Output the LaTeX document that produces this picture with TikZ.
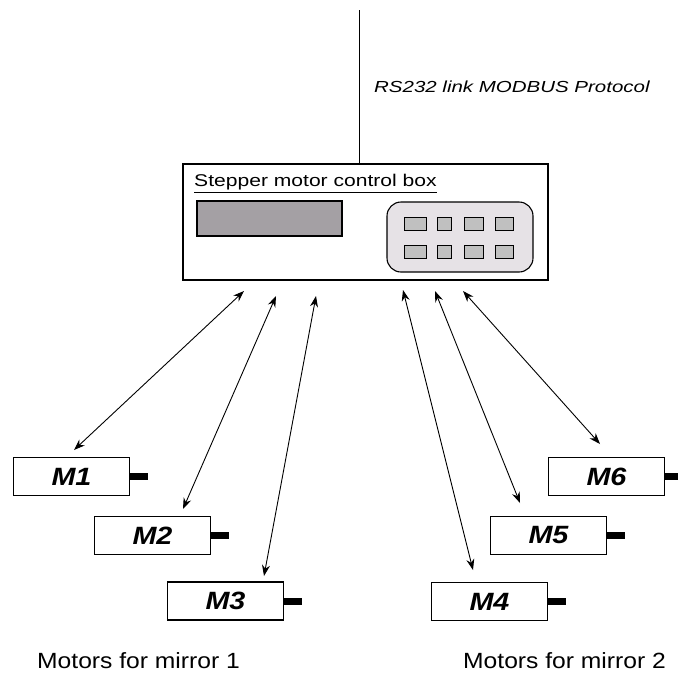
\documentclass[tikz,border=0pt]{standalone}
\usepackage{fontspec}
\usepackage{graphicx}
\setmainfont{Liberation Sans}
\usetikzlibrary{arrows.meta}
\definecolor{dispgray}{HTML}{A4A0A4}
\definecolor{padgray}{HTML}{E6E2E6}
\definecolor{btngray}{HTML}{C0C0C0}
\tikzset{
  motor/.style={draw, line width=1.1pt, minimum width=116pt, minimum height=38pt, inner sep=0pt,
    font=\fontsize{25}{25}\selectfont\bfseries\itshape},
  link/.style={line width=0.9pt, {Stealth[length=11pt,width=8pt]}-{Stealth[length=11pt,width=8pt]}},
  btn/.style={draw, line width=1pt, fill=btngray},
  plain/.style={inner sep=0pt, anchor=base west}
}
\newcommand{\shaft}[1]{\fill (#1.east) ++(0,-3.5) rectangle ++(18,7);}
\newcommand{\mlabel}[1]{\scalebox{1.15}[1]{#1}}
\begin{document}
\begin{tikzpicture}[x=1pt,y=-1pt]
\useasboundingbox (0,0) rectangle (678,673);
% main box
\node[draw, line width=1.3pt, minimum width=365pt, minimum height=116pt, inner sep=0pt] (box) at (365.5,222) {};
\coordinate (top) at (359,10);
\draw[line width=1pt] (top) -- (top |- box.north);
\node[plain, font=\fontsize{16}{16}\selectfont\itshape] (rs) at (374,92) {\scalebox{1.28}[1]{RS232 link MODBUS Protocol}};
\node[plain, font=\fontsize{17}{17}\selectfont] (title) at (194,186) {\scalebox{1.24}[1]{Stepper motor control box}};
\draw[line width=1pt] ([yshift=-6pt]title.base west) -- ([yshift=-6pt]title.base east);
% display
\draw[line width=1.1pt, fill=dispgray] (197,201) rectangle (342,236);
% keypad
\draw[line width=1.1pt, fill=padgray, rounded corners=14pt] (387,202) rectangle (533,272);
\foreach \xa/\xb in {404/426, 437/451, 464/483, 495/513} {
  \draw[btn] (\xa,217) rectangle (\xb,230);
  \draw[btn] (\xa,245) rectangle (\xb,258);
}
% motors
\node[motor] (m1) at (71.5,476.5) {\mlabel{M1}};
\node[motor] (m2) at (152.5,535.5) {\mlabel{M2}};
\node[motor] (m3) at (225.5,601) {\mlabel{M3}};
\node[motor] (m4) at (489.5,601.5) {\mlabel{M4}};
\node[motor] (m5) at (548.5,535.5) {\mlabel{M5}};
\node[motor] (m6) at (606.5,476.5) {\mlabel{M6}};
\shaft{m1}\shaft{m2}\shaft{m3}\shaft{m4}\shaft{m5}\shaft{m6}
% connector end points
\coordinate (b1) at (244,291); \coordinate (e1) at (74,450);
\coordinate (b2) at (276,296); \coordinate (e2) at (183,509);
\coordinate (b3) at (316,296); \coordinate (e3) at (264,576);
\coordinate (b4) at (403,290); \coordinate (e4) at (473,570);
\coordinate (b5) at (435,291); \coordinate (e5) at (520,503);
\coordinate (b6) at (463,291); \coordinate (e6) at (600,444);
\draw[link] (b1) -- (e1);
\draw[link] (b2) -- (e2);
\draw[link] (b3) -- (e3);
\draw[link] (b4) -- (e4);
\draw[link] (b5) -- (e5);
\draw[link] (b6) -- (e6);
% labels
\node[plain, font=\fontsize{22}{22}\selectfont] (l1) at (37,668) {\scalebox{1.12}[1]{Motors for mirror 1}};
\node[plain, font=\fontsize{22}{22}\selectfont] (l2) at (463,668) {\scalebox{1.12}[1]{Motors for mirror 2}};
\end{tikzpicture}
\end{document}
